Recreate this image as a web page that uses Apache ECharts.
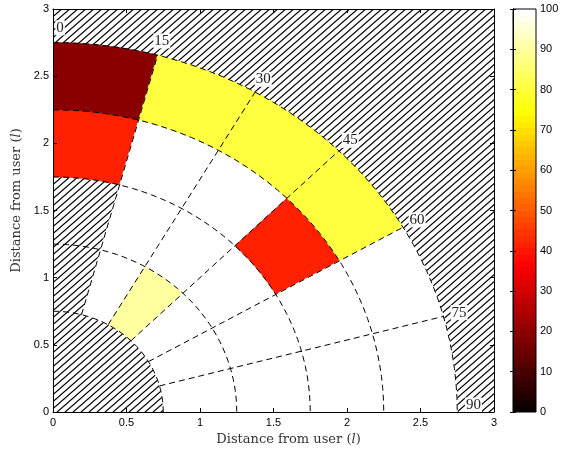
<!DOCTYPE html>
<html><head><meta charset="utf-8">
<script src="https://cdn.jsdelivr.net/npm/echarts@6/dist/echarts.min.js"></script>
<style>html,body{margin:0;padding:0;background:#fff}#c{width:568px;height:453px}</style>
</head><body><div id="c"></div>
<script>
// ---- data ----
const ringRadii = [0.75, 1.25, 1.75, 2.25, 2.75];
const sectorAngles = [0, 15, 30, 45, 60, 75, 90];
// values per sector (0-15,15-30,30-45,45-60,60-75,75-90); null = obstructed (hatched)
const ring1Values = [null, 100, 90, 100, 100, 100];   // 0.75-1.25
const ring2Values = [null, 100, 100, 100, 100, 100];  // 1.25-1.75
const ring3Values = [42, 100, 100, 42, 100, 100];     // 1.75-2.25
const ring4Values = [19, 81, 81, 81, 100, 100];       // 2.25-2.75
const axisTicks = [0, 0.5, 1, 1.5, 2, 2.5, 3];
const colorbarTicks = [0, 10, 20, 30, 40, 50, 60, 70, 80, 90, 100];
const angleLabels = ['0', '15', '30', '45', '60', '75', '90'];

const ringValues = [ring1Values, ring2Values, ring3Values, ring4Values];
const cellData = [];
ringValues.forEach((vals, ri) => vals.forEach((v, si) => cellData.push([ri, si, v])));

// ---- matlab hot(64) colormap ----
function hotColor(i) {
  const n1 = 24, n2 = 24, n3 = 16;
  const r = i < n1 ? (i + 1) / n1 : 1;
  const g = i < n1 ? 0 : (i < n1 + n2 ? (i - n1 + 1) / n2 : 1);
  const b = i < n1 + n2 ? 0 : (i - n1 - n2 + 1) / n3;
  return 'rgb(' + Math.round(r * 255) + ',' + Math.round(g * 255) + ',' + Math.round(b * 255) + ')';
}
function valueColor(v) {
  const lo = colorbarTicks[0], hi = colorbarTicks[colorbarTicks.length - 1];
  const idx = Math.max(0, Math.min(63, Math.floor((v - lo) / (hi - lo) * 64)));
  return hotColor(idx);
}

// ---- hatch pattern ----
const tile = document.createElement('canvas');
tile.width = 8; tile.height = 7;
(function () {
  const g = tile.getContext('2d');
  g.fillStyle = '#fff'; g.fillRect(0, 0, 8, 7);
  g.strokeStyle = '#000'; g.lineWidth = 1.25;
  g.beginPath();
  for (let k = -1; k <= 1; k++) { g.moveTo(-8, 14 + 7 * k); g.lineTo(16, -7 + 7 * k); }
  g.stroke();
})();
const hatch = { image: tile, repeat: 'repeat' };

function polar(r, a) { const t = a * Math.PI / 180; return [r * Math.sin(t), r * Math.cos(t)]; }
function arcPts(api, r, a0, a1) {
  const pts = [], N = 40;
  for (let k = 0; k <= N; k++) pts.push(api.coord(polar(r, a0 + (a1 - a0) * k / N)));
  return pts;
}
function sectorPts(api, r0, r1, a0, a1) {
  return arcPts(api, r1, a0, a1).concat(arcPts(api, r0, a1, a0));
}

const serif = 'DejaVu Serif';
const sans = 'Liberation Sans';
const aMin = sectorAngles[0], aMax = sectorAngles[sectorAngles.length - 1];
const rMin = ringRadii[0], rMax = ringRadii[ringRadii.length - 1];

const baseAxis = {
  type: 'value', min: axisTicks[0], max: axisTicks[axisTicks.length - 1], interval: 0.5,
  axisLine: { show: true, onZero: false, lineStyle: { color: '#000', width: 1 } },
  axisTick: { show: true, inside: true, length: 4, lineStyle: { color: '#000', width: 1 } },
  splitLine: { show: false }, z: 10
};
const labelStyle = { color: '#000', fontFamily: sans, fontSize: 11 };
const titleRich = {
  n: { fontFamily: serif, fontSize: 13, color: '#333' },
  i: { fontFamily: serif, fontSize: 13, fontStyle: 'italic', color: '#333' }
};
const title = '{n|Distance from user (}{i|l}{n|)}';

const option = {
  animation: false,
  backgroundColor: '#fff',
  grid: [
    { left: 53, top: 9, width: 441, height: 403, containLabel: false },
    { left: 513, top: 9, width: 23, height: 403, containLabel: false }
  ],
  xAxis: [
    Object.assign({}, baseAxis, {
      gridIndex: 0, position: 'bottom',
      axisLabel: Object.assign({ margin: 5 }, labelStyle),
      name: title, nameLocation: 'middle', nameGap: 17,
      nameTextStyle: { rich: titleRich, padding: [0, 0, 0, 30] }
    }),
    Object.assign({}, baseAxis, { gridIndex: 0, position: 'top', axisLabel: { show: false } }),
    { type: 'value', gridIndex: 1, min: 0, max: 1, show: false }
  ],
  yAxis: [
    Object.assign({}, baseAxis, {
      gridIndex: 0, position: 'left',
      axisLabel: Object.assign({ margin: 4 }, labelStyle),
      name: title, nameLocation: 'middle', nameGap: 26,
      nameTextStyle: { rich: titleRich, padding: [0, 0, 0, 20] }
    }),
    Object.assign({}, baseAxis, { gridIndex: 0, position: 'right', axisLabel: { show: false } }),
    {
      type: 'value', gridIndex: 1, position: 'right', min: colorbarTicks[0], max: colorbarTicks[colorbarTicks.length - 1], interval: 10,
      axisLine: { show: true, lineStyle: { color: '#000', width: 1 } },
      axisTick: { show: true, inside: true, length: 3, lineStyle: { color: '#000' } },
      axisLabel: Object.assign({ margin: 4 }, labelStyle),
      splitLine: { show: false }, z: 10
    },
    {
      type: 'value', gridIndex: 1, position: 'left', min: colorbarTicks[0], max: colorbarTicks[colorbarTicks.length - 1], interval: 10,
      axisLine: { show: true, lineStyle: { color: '#000', width: 1 } },
      axisTick: { show: true, inside: true, length: 3, lineStyle: { color: '#000' } },
      axisLabel: { show: false }, splitLine: { show: false }, z: 10
    }
  ],
  series: [
    { // hatched background
      type: 'custom', xAxisIndex: 0, yAxisIndex: 0, clip: true, z: 1, silent: true,
      data: [[0, 0]],
      renderItem: (params, api) => {
        const p0 = api.coord([axisTicks[0], axisTicks[0]]);
        const p1 = api.coord([axisTicks[axisTicks.length - 1], axisTicks[axisTicks.length - 1]]);
        return { type: 'group', children: [
          { type: 'rect', shape: { x: p0[0], y: p1[1], width: p1[0] - p0[0], height: p0[1] - p1[1] }, style: { fill: hatch } },
          { type: 'polygon', shape: { points: sectorPts(api, rMin, rMax, aMin, aMax) }, style: { fill: '#fff' } }
        ] };
      }
    },
    { // cells
      type: 'custom', xAxisIndex: 0, yAxisIndex: 0, clip: true, z: 2, silent: true,
      data: cellData.map(d => [d[0], d[1]]),
      renderItem: (params, api) => {
        const d = cellData[params.dataIndex];
        const ri = d[0], si = d[1], v = d[2];
        const pts = sectorPts(api, ringRadii[ri], ringRadii[ri + 1], sectorAngles[si], sectorAngles[si + 1]);
        if (v === null) return { type: 'polygon', shape: { points: pts }, style: { fill: hatch } };
        const c = valueColor(v);
        return { type: 'polygon', shape: { points: pts }, style: { fill: c, stroke: c, lineWidth: 0.6 } };
      }
    },
    { // dashed grid
      type: 'custom', xAxisIndex: 0, yAxisIndex: 0, clip: true, z: 3, silent: true,
      data: [[0, 0]],
      renderItem: (params, api) => {
        const children = [];
        const ls = { stroke: '#000', lineWidth: 1, lineDash: [6, 4], fill: null };
        ringRadii.forEach(r => children.push({ type: 'polyline', shape: { points: arcPts(api, r, aMin, aMax) }, style: ls }));
        sectorAngles.slice(1, -1).forEach(a => {
          const p = api.coord(polar(rMin, a)), q = api.coord(polar(rMax, a));
          children.push({ type: 'line', shape: { x1: p[0], y1: p[1], x2: q[0], y2: q[1] }, style: ls });
        });
        return { type: 'group', children };
      }
    },
    { // angle labels
      type: 'custom', xAxisIndex: 0, yAxisIndex: 0, clip: false, z: 4, silent: true,
      data: sectorAngles.map(a => [a, 0]),
      renderItem: (params, api) => {
        const a = sectorAngles[params.dataIndex];
        const p = polar(2.86, a);
        p[0] = Math.max(p[0], 0.048); p[1] = Math.max(p[1], 0.052);
        const c = api.coord(p);
        return { type: 'text', x: c[0], y: c[1], style: {
          text: angleLabels[params.dataIndex], fill: '#222', font: '15px "Liberation Serif"',
          align: 'center', verticalAlign: 'middle', backgroundColor: '#fff', padding: [0, 1, 0, 1]
        } };
      }
    },
    { // colorbar
      type: 'custom', xAxisIndex: 2, yAxisIndex: 2, clip: false, z: 2, silent: true,
      data: [[0, 0]],
      renderItem: (params, api) => {
        const p0 = api.coord([0, colorbarTicks[0]]);
        const p1 = api.coord([1, colorbarTicks[colorbarTicks.length - 1]]);
        const stops = [];
        for (let i = 0; i < 64; i++) {
          const c = hotColor(i);
          stops.push({ offset: i / 64, color: c }, { offset: (i + 1) / 64, color: c });
        }
        return { type: 'rect', shape: { x: p0[0], y: p1[1], width: p1[0] - p0[0], height: p0[1] - p1[1] },
          style: { fill: new echarts.graphic.LinearGradient(0, 1, 0, 0, stops), stroke: '#000', lineWidth: 1 } };
      }
    }
  ]
};
const chart = echarts.init(document.getElementById('c'), null, { renderer: 'canvas' });
chart.setOption(option);
</script></body></html>
